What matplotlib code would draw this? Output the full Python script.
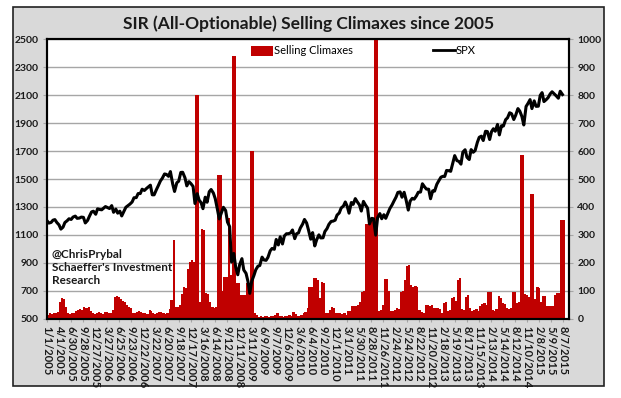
import numpy as np
import pandas as pd
import matplotlib
matplotlib.use('Agg')
import matplotlib.pyplot as plt
import matplotlib.dates as mdates
from matplotlib.patches import Rectangle, Patch
from matplotlib.lines import Line2D

plt.rcParams['font.family'] = ['Lato', 'DejaVu Sans']

# semi-monthly observations (1st and 15th), 1/1/2005 .. 8/1/2015
dates = pd.date_range('2005-01-01', periods=255, freq='SMS')

spx_2005 = [1202, 1185, 1190, 1206, 1210, 1190, 1172, 1142, 1156, 1189, 1202, 1216,
            1211, 1228, 1235, 1219, 1221, 1228, 1226, 1186, 1204, 1234, 1265, 1270]
spx_2006 = [1248, 1287, 1282, 1280, 1291, 1303, 1295, 1289, 1310, 1262, 1285, 1256,
            1270, 1236, 1270, 1298, 1311, 1321, 1336, 1366, 1367, 1396, 1396, 1427]
spx_2007 = [1418, 1431, 1445, 1456, 1387, 1387, 1424, 1452, 1486, 1505, 1536, 1533,
            1519, 1553, 1465, 1411, 1473, 1484, 1547, 1548, 1509, 1451, 1481, 1468]
spx_2008 = [1447, 1325, 1395, 1350, 1331, 1288, 1370, 1334, 1409, 1425, 1400, 1360,
            1285, 1215, 1260, 1298, 1275, 1192, 1160, 907, 968, 873, 816, 888]
spx_2009 = [931, 850, 826, 770, 683, 768, 811, 852, 877, 882, 942, 922,
            919, 940, 987, 1004, 998, 1068, 1029, 1087, 1036, 1093, 1109, 1109]
spx_2010 = [1115, 1136, 1074, 1109, 1115, 1150, 1178, 1211, 1186, 1136, 1070, 1117,
            1022, 1065, 1101, 1079, 1080, 1125, 1146, 1176, 1197, 1199, 1206, 1242]
spx_2011 = [1258, 1293, 1307, 1336, 1306, 1256, 1332, 1319, 1360, 1338, 1315, 1271,
            1340, 1316, 1292, 1179, 1219, 1216, 1099, 1224, 1253, 1216, 1245, 1219]
spx_2012 = [1258, 1289, 1316, 1343, 1370, 1404, 1408, 1370, 1405, 1353, 1278, 1342,
            1362, 1356, 1379, 1405, 1407, 1466, 1444, 1428, 1427, 1359, 1416, 1413]
spx_2013 = [1462, 1486, 1513, 1519, 1518, 1561, 1559, 1555, 1614, 1667, 1631, 1626,
            1606, 1692, 1709, 1655, 1639, 1710, 1691, 1703, 1762, 1798, 1806, 1775]
spx_2014 = [1841, 1839, 1782, 1838, 1859, 1841, 1890, 1815, 1881, 1878, 1924, 1937,
            1973, 1967, 1925, 1955, 2003, 1985, 1946, 1886, 2018, 2039, 2067, 2003]
spx_2015 = [2058, 2019, 2020, 2097, 2117, 2053, 2067, 2081, 2108, 2123, 2107, 2094,
            2077, 2127, 2103]

clx_2005 = [15, 20, 18, 22, 20, 25, 60, 74, 70, 44, 20, 18,
            22, 20, 28, 32, 35, 32, 44, 40, 44, 30, 20, 18]
clx_2006 = [22, 25, 20, 18, 24, 26, 22, 20, 32, 78, 82, 80,
            70, 66, 60, 50, 44, 40, 22, 20, 26, 28, 24, 20]
clx_2007 = [20, 18, 32, 30, 20, 18, 22, 26, 24, 20, 18, 22,
            35, 68, 282, 44, 44, 50, 90, 113, 110, 178, 205, 210]
clx_2008 = [205, 800, 800, 60, 320, 318, 92, 90, 60, 44, 40, 44,
            515, 515, 100, 150, 150, 360, 157, 940, 940, 130, 127, 86]
clx_2009 = [86, 86, 130, 130, 600, 600, 20, 15, 8, 10, 8, 12,
            10, 8, 12, 10, 15, 20, 12, 10, 8, 10, 12, 15]
clx_2010 = [10, 26, 18, 10, 12, 15, 20, 26, 40, 113, 113, 147,
            147, 140, 74, 132, 130, 20, 20, 32, 44, 40, 20, 20]
clx_2011 = [20, 18, 20, 14, 29, 29, 46, 46, 46, 50, 60, 97,
            99, 340, 355, 345, 357, 1000, 1000, 30, 33, 50, 143, 143]
clx_2012 = [100, 27, 30, 32, 38, 35, 97, 100, 139, 190, 192, 121,
            115, 119, 115, 32, 25, 20, 50, 50, 48, 50, 38, 40]
clx_2013 = [38, 35, 20, 57, 60, 30, 32, 75, 78, 65, 140, 145,
            35, 32, 80, 87, 40, 30, 32, 36, 30, 45, 52, 56]
clx_2014 = [50, 95, 95, 32, 30, 35, 82, 74, 56, 52, 38, 36,
            38, 95, 95, 57, 60, 585, 585, 89, 87, 80, 445, 445]
clx_2015 = [70, 113, 110, 62, 83, 83, 48, 48, 45, 48, 85, 92,
            92, 355, 355]

spx = (spx_2005 + spx_2006 + spx_2007 + spx_2008 + spx_2009 + spx_2010 +
       spx_2011 + spx_2012 + spx_2013 + spx_2014 + spx_2015)
climaxes = (clx_2005 + clx_2006 + clx_2007 + clx_2008 + clx_2009 + clx_2010 +
            clx_2011 + clx_2012 + clx_2013 + clx_2014 + clx_2015)

tick_labels = ['1/1/2005', '4/1/2005', '6/30/2005', '9/28/2005', '12/27/2005',
               '3/27/2006', '6/25/2006', '9/23/2006', '12/22/2006', '3/22/2007',
               '6/20/2007', '9/18/2007', '12/17/2007', '3/16/2008', '6/14/2008',
               '9/12/2008', '12/11/2008', '3/11/2009', '6/9/2009', '9/7/2009',
               '12/6/2009', '3/6/2010', '6/4/2010', '9/2/2010', '12/1/2010',
               '3/1/2011', '5/30/2011', '8/28/2011', '11/26/2011', '2/24/2012',
               '5/24/2012', '8/22/2012', '11/20/2012', '2/18/2013', '5/19/2013',
               '8/17/2013', '11/15/2013', '2/13/2014', '5/14/2014', '8/12/2014',
               '11/10/2014', '2/8/2015', '5/9/2015', '8/7/2015']

RED = '#c00000'
GRID = '#a6a6a6'

fig = plt.figure(figsize=(6.21, 3.98), dpi=100, facecolor='white')
fig.patches.append(Rectangle((0.0205, 0.030), 0.952, 0.952, transform=fig.transFigure,
                             facecolor='#d9d9d9', edgecolor='#222222', linewidth=1.2,
                             zorder=0))

ax = fig.add_axes([0.0757, 0.1985, 0.8406, 0.7035])
ax2 = ax.twinx()
ax.set_zorder(2)
ax2.set_zorder(1)
ax.patch.set_visible(False)
ax2.patch.set_visible(True)
ax2.patch.set_facecolor('white')

# bars (right axis)
xnum = mdates.date2num(dates)
widths = np.append(np.diff(xnum), 16) + 1.5
ax2.bar(xnum, climaxes, width=widths, align='edge', color=RED, linewidth=0)
ax2.set_ylim(0, 1000)
ax2.set_yticks(np.arange(0, 1001, 100))
ax2.set_axisbelow(True)
ax2.yaxis.grid(True, color=GRID, linewidth=1)

# SPX line (left axis)
ax.plot(xnum, spx, color='black', linewidth=2.2, solid_joinstyle='round')
ax.set_ylim(500, 2500)
ax.set_yticks(np.arange(500, 2501, 200))

tick_pos = mdates.date2num(pd.to_datetime(tick_labels, format='%m/%d/%Y'))
ax.set_xticks(tick_pos)
ax.set_xticklabels(tick_labels, rotation=-90, ha='center', va='top')
ax.set_xlim(mdates.date2num(pd.Timestamp('2005-01-01')),
            mdates.date2num(pd.Timestamp('2015-09-19')))

for a in (ax, ax2):
    for s in a.spines.values():
        s.set_color('black')
        s.set_linewidth(1.5)
ax.tick_params(axis='y', length=3, pad=3, color=GRID, labelsize=7.5)
ax2.tick_params(axis='y', length=3, pad=3, color=GRID, labelsize=7.5)
ax.tick_params(axis='x', length=2, pad=3, color=GRID, labelsize=8)
for lab in ax.get_yticklabels() + ax2.get_yticklabels() + ax.get_xticklabels():
    lab.set_fontweight('bold')
    lab.set_color('#1a1a1a')

fig.text(0.4976, 0.94, 'SIR (All-Optionable) Selling Climaxes since 2005',
         ha='center', va='center', fontsize=12.5, fontweight='bold', color='#1a1a1a')

handles = [Patch(facecolor=RED, edgecolor='none'),
           Line2D([0], [0], color='black', linewidth=2)]
ax.legend(handles, ['Selling Climaxes', 'SPX'], ncol=2, loc='upper left',
          bbox_to_anchor=(0.375, 1.005), frameon=False, fontsize=8,
          handlelength=2.0, handleheight=1.0, handletextpad=0.1,
          columnspacing=7.2, borderaxespad=0.3)

ax.text(0.009, 0.25, "@ChrisPrybal\nSchaeffer's Investment\nResearch",
        transform=ax.transAxes, ha='left', va='top', fontsize=8.5,
        fontweight='bold', color='#1a1a1a', linespacing=1.25)

fig.savefig('out.png', dpi=100, facecolor='white')
